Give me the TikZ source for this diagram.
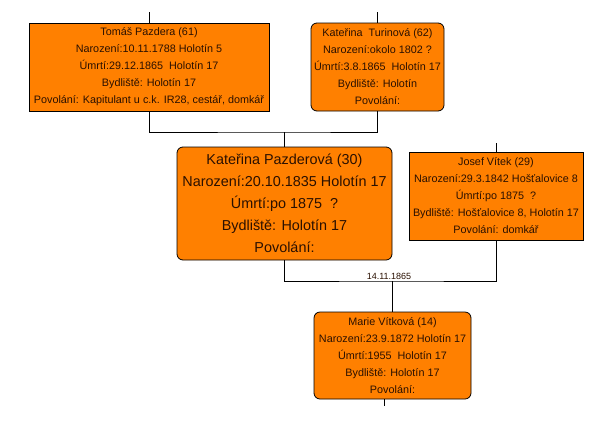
\documentclass[tikz,border=0pt]{standalone}
\usepackage{fontspec}
\setmainfont{Liberation Sans}
\definecolor{boxfill}{HTML}{FF8000}
\definecolor{boxtext}{HTML}{2A1000}
\begin{document}
\begin{tikzpicture}[x=1pt,y=-1pt,
  person/.style={draw=black, line width=0.8pt, fill=boxfill, text=boxtext, align=center, inner sep=0pt,
    font=\fontsize{10.8}{17}\selectfont},
  big/.style={font=\fontsize{14.4}{22}\selectfont},
  rnd/.style={rounded corners=6pt},
  wire/.style={draw=black, line width=0.8pt}]
\useasboundingbox (0,0) rectangle (604,437);
\fill[white] (0,0) rectangle (604,437);

\node[person, minimum width=240pt, minimum height=88pt] (b1) at (149,67)
  {Tomáš Pazdera (61)\\Narození:10.11.1788 Holotín 5\\Úmrtí:29.12.1865\ \ Holotín 17\\Bydliště: Holotín 17\\Povolání: Kapitulant u c.k. IR28, cestář, domkář};
\node[person, rnd, minimum width=133pt, minimum height=88pt] (b2) at (377.5,67)
  {Kateřina\ \ Turinová (62)\\Narození:okolo 1802 ?\\Úmrtí:3.8.1865\ \ Holotín 17\\Bydliště: Holotín\\Povolání:};
\node[person, big, rnd, minimum width=215pt, minimum height=113pt] (b3) at (284.5,203.5)
  {Kateřina Pazderová (30)\\Narození:20.10.1835 Holotín 17\\Úmrtí:po 1875\ \ ?\\Bydliště: Holotín 17\\Povolání:};
\node[person, minimum width=174pt, minimum height=88pt] (b4) at (496,196)
  {Josef Vítek (29)\\Narození:29.3.1842 Hošťalovice 8\\Úmrtí:po 1875\ \ ?\\Bydliště: Hošťalovice 8, Holotín 17\\Povolání: domkář};
\node[person, rnd, minimum width=157pt, minimum height=87pt] (b5) at (392.5,355.5)
  {Marie Vítková (14)\\Narození:23.9.1872 Holotín 17\\Úmrtí:1955\ \ Holotín 17\\Bydliště: Holotín 17\\Povolání:};

\coordinate (t1) at (149,12);
\coordinate (t2) at (377.5,12);
\coordinate (t4) at (496,143);
\coordinate (t5) at (384,406);
\coordinate (j1) at (284.5,132);
\coordinate (j2) at (392.5,281);

\draw[wire] (t1) -- (b1.north);
\draw[wire] (t2) -- (b2.north);
\draw[wire] (t4) -- (b4.north);
\draw[wire] (b1.south) |- (j1) -| (b2.south);
\draw[wire] (j1) -- (b3.north);
\draw[wire] (b3.south) |- (j2) -| (b4.south);
\draw[wire] (j2) -- (b5.north);
\draw[wire] (b5.south -| t5) -- (t5);

\node[font=\fontsize{9}{10}\selectfont, text=boxtext, anchor=south, inner sep=1.5pt] (lab) at (389,281) {14.11.1865};
\end{tikzpicture}
\end{document}
